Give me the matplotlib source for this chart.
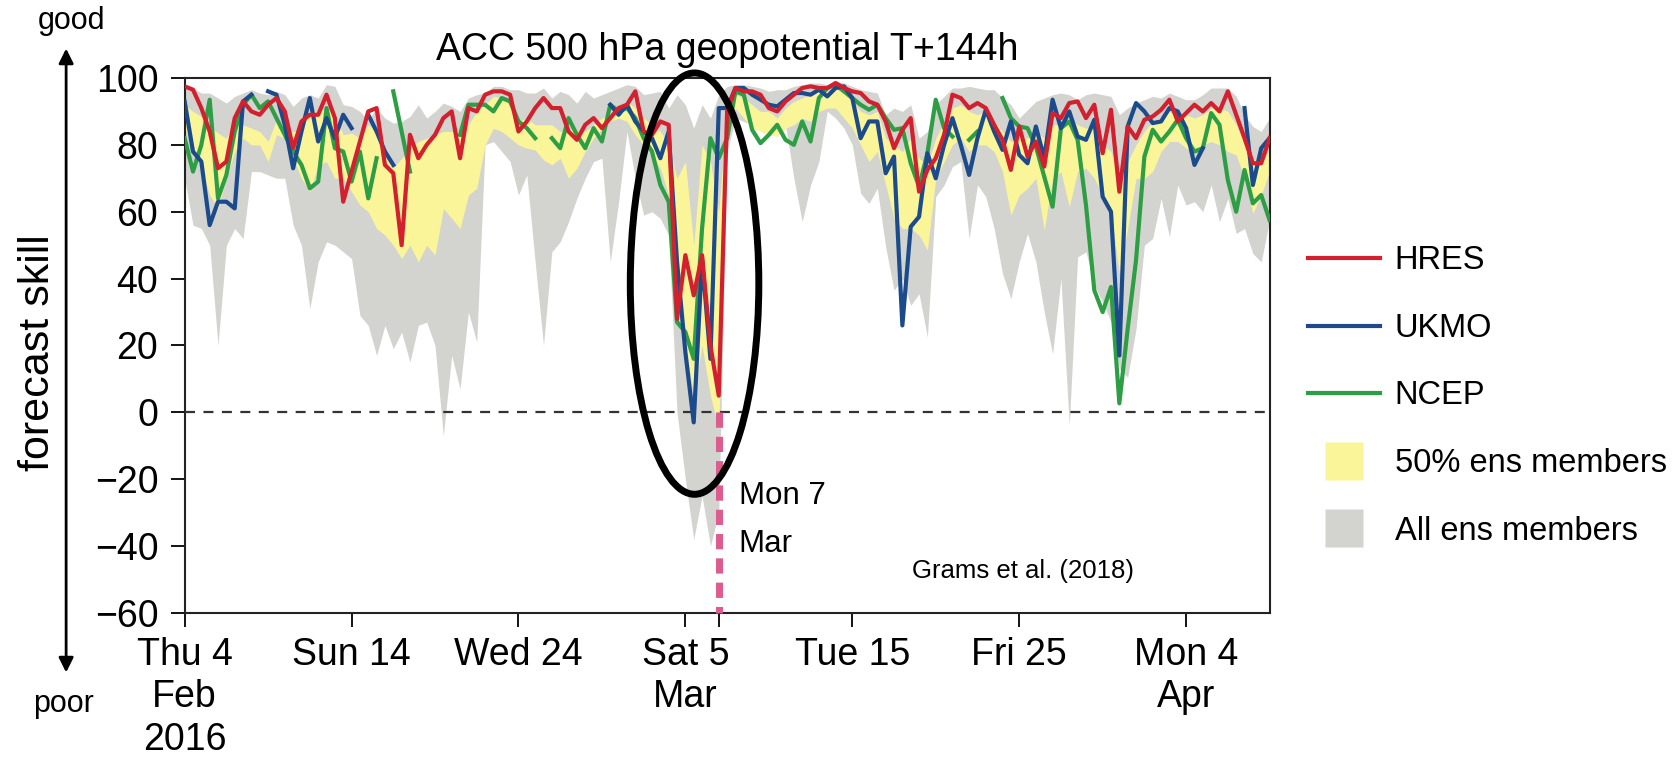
import numpy as np
import pandas as pd
import matplotlib
matplotlib.use('Agg')
import matplotlib.pyplot as plt
import matplotlib.dates as mdates
from matplotlib.patches import Ellipse, FancyArrowPatch
from matplotlib.lines import Line2D

plt.rcParams['font.family'] = ['Liberation Sans', 'DejaVu Sans']

N = None
# forecasts every 12 h from Thu 4 Feb 2016
times = pd.date_range('2016-02-04', periods=131, freq='12h')

hres = [97.5, 96.5, 91, 84, 73, 75, 88, 93, 90, 89,
        92, 94, 90, 79, 87, 89, 89, 95, 88, 63,
        72, 81, 90, 91, 74, 71.5, 50, 83, 76, 80,
        83, 88, 90, 76, 91, 90, 95, 96, 96, 95,
        84, 87, 91, 94, 91, 91, 84, 81.5, 86, 88,
        85, 88, 91, 92, 96, 84, 83, 87, 86, 28,
        47, 35, 47, 20, 5, 90, 97, 96, 96, 95,
        91, 90, 93, 95, 97, 97.5, 97, 97, 98.5, 97,
        96, 95.5, 93, 92, 87, 79, 84.5, 88, 66, 72.5,
        76, 83, 95, 94, 91, 92.5, 91, 86, 81.5, 72.5,
        85.5, 76.5, 81, 73.5, 89.5, 88, 92.5, 93, 88, 92,
        77.5, 90.5, 66, 85.5, 82, 87.5, 88.5, 90.5, 93.5, 87,
        89.5, 92, 90, 92.5, 90, 96, 89, 82, 74.5, 74.5,
        82]

ukmo = [93, 78, 75, 56, 63, 63, 61, 93, 95, N,
        96, 95, 86, 73, 84, 94, 81, 88, 82, 89,
        85, N, 89, 84, 78, 74, N, N, N, N,
        N, N, N, N, N, N, N, N, N, N,
        N, N, N, N, N, N, N, N, N, N,
        N, 92, 89, 92, 87, 84, 82, 76, 84, 45,
        18, -3, 46, 16, 91, 91, 97, 97, 95, 93.5,
        92, 91.5, 93.5, 95.5, 95.5, 95, 96.5, 94.5, 97, 97.5,
        94, 82, 87, 87, 71.5, 76.5, 26, 55.5, 58.5, 77.5,
        70, 80, 88, 80, 71, 82, 90.5, 84, 78.5, 87,
        77, 74.5, 85.5, 76, 93.5, 85, 90, 82.5, 81.5, 87.5,
        64.5, 60, 17, 85.5, 92.5, 90, 86.5, 87, 91, 90,
        85, 74, 79, N, N, N, N, 91, 68, 79,
        82]

ncep = [82, 72, 80, 93.5, 64, 71, 84, 92, 95, 91,
        93, 88, 83, 78, 74, 67, 69, 91, 79, 78,
        69, 78, 64, 76, N, 96, 84, 72, N, N,
        N, N, N, 83, 92, 92, 92, 90, 94, 93,
        87, 85, 82, N, 82, 79, 88, 83, 79, 85,
        81, 92, 90, 91, 88, 82, 78, 68, 63, 27,
        24, 16, 55, 82, 76, 82, 96, 95, 84.5, 80.5,
        83, 86, 81.5, 80, 87, 81, 94, 97, 98, 96,
        94, 92, 90.5, 92, 88, 84.5, 85, 74.5, 67.5, 77.5,
        93.5, 85, 82.5, N, 81.5, 84, N, N, 94, 88,
        85.5, 85, 79.5, 70.5, 61.5, 85, 87, 81.5, 62, 36.5,
        30, 37.5, 2.7, 25, 45.5, 76.5, 84.5, 81, 84, 87.5,
        82, 78, 79, 89.5, 86, 69.5, 60, 72.5, 62.5, 65,
        57.5]

# ensemble: all members (min / max)
ens_max = [98, 97, 95.5, 95.5, 94, 92.5, 94.5, 95.5, 96.5, 95.5,
           95, 96, 95, 91.5, 94, 95, 94, 98, 97.5, 92,
           91.5, 90, 87.5, 91, 88, 86.5, 87, 88.5, 92, 88,
           90, 92.5, 91.5, 90, 94, 95, 95.5, 97.5, 97.5, 96.5,
           96.5, 95.5, 95.5, 97, 94, 96, 95, 92.5, 96, 94,
           95, 96, 97, 98, 97.5, 95, 95.5, 96, 91, 95,
           92, 85, 92, 88, 95, 97.5, 98, 98, 97.5, 97,
           96, 96.5, 96.5, 97.5, 98, 98.5, 98.5, 98, 99, 98.5,
           97.5, 96.5, 96, 95.5, 89, 91, 90, 92, 82, 84,
           92, 94.5, 97, 97, 97.5, 97, 96.5, 96.5, 94, 92,
           88, 90.5, 93, 94, 95, 95.5, 95, 93.5, 95, 95.5,
           95, 94.5, 89, 91, 92.5, 93.5, 94.5, 94, 95.5, 94.5,
           93.5, 93.5, 95, 97, 97, 97, 94.5, 89, 85.5, 84,
           88]

ens_min = [70, 56, 55, 50, 20, 50, 55, 52, 72, 72,
           71, 70, 70, 56, 50, 31, 45, 51, 50, 48,
           46, 29, 26, 17, 26, 19, 24, 15, 26, 27,
           20, -7, 17, 7, 30, 21, 80, 81, 78, 75,
           65, 71, 45, 20, 48, 51, 57, 64, 70, 75,
           76, 45, 63, 84, 70, 59, 60, 58, 53, 0,
           -20, -38, -25, -40, -30, 78, 88, 87, 86, 85,
           87, 84, 86, 70, 57, 68, 75, 90, 88, 85,
           80, 65.5, 62.5, 67, 49.5, 36.5, 40, 32, 35.5, 22.5,
           64.5, 68, 73.5, 75, 52, 68, 64.5, 55, 41.5, 34,
           45, 53.5, 45, 30, 17.5, 40, -4, 46.5, 48, 38,
           33, 27, 13, 10.5, 25, 50, 52, 64, 52.5, 68,
           62, 63, 60, 68, 57, 64, 53.5, 55, 47.5, 45,
           57.5]

# ensemble: central 50% of members
ens_q75 = [92, 90, 88.5, 85.5, 83.5, 82, 87.5, 86, 85, 84,
           81, 87.5, 84, 84, 84, 90, 90, 91, 89, 83,
           83.5, 82, 86, 84, 79, 73, 76, 79, 81, 82,
           83, 84, 84, 83, 86, 90, 92, 94.5, 94, 92,
           87, 88, 86, 86, 86, 84, 85, 84, 84, 86,
           88, 89, 91, 93, 91, 88, 86, 84, 80, 70,
           75, 50, 80, 75, 60, 90, 95, 94, 92, 90,
           90, 88, 91, 93, 94, 95, 96, 96, 97, 95.5,
           93, 90, 89, 90, 82, 80, 78, 82, 76, 74,
           82, 87, 91, 92, 90, 89, 90, 87, 84, 81,
           83, 82, 84, 82, 86, 86, 88, 86, 85, 86,
           80, 78, 70, 75, 80, 84, 87, 88, 90, 88,
           89, 88, 89, 91, 91, 90, 86, 80, 76, 74,
           79]

ens_q25 = [85, 79, 73, 65, 61, 70, 78, 82, 80, 80,
           75, 83, 82, 76, 70, 66, 74, 75, 70, 70,
           66, 62, 60, 55, 53, 50, 46, 50, 45, 50,
           47, 61, 58, 55, 65, 67, 80, 85, 84, 82,
           80, 79, 78.5, 75.5, 74, 76, 70, 73, 78, 82,
           85, 87, 88, 87, 83, 80, 77, 73, 65, 35,
           20, 5, 20, 5, -5, 85, 91, 88, 85, 84,
           83, 82.5, 85, 86, 88, 87, 90, 91, 91, 88,
           85, 80, 75, 78, 68, 58, 55, 55, 53, 48.5,
           70, 75, 80, 82, 78, 80, 80, 78, 72, 59,
           65, 67, 70, 54.5, 70, 72, 61.5, 72, 73, 70,
           65, 60, 41.5, 55, 70, 70, 72, 78, 81, 81,
           79, 78, 80, 81, 80, 78, 77, 70, 59.5, 65,
           72]

tick_dates = ['2016-02-04', '2016-02-14', '2016-02-24', '2016-03-05',
              '2016-03-15', '2016-03-25', '2016-04-04']
tick_labels = ['Thu 4\nFeb\n2016', 'Sun 14', 'Wed 24', 'Sat 5\nMar',
               'Tue 15', 'Fri 25', 'Mon 4\nApr']
event_date = '2016-03-07'

c_hres = '#d2202e'
c_ukmo = '#1c4b8c'
c_ncep = '#2e9e45'
c_q50 = '#faf598'
c_all = '#d3d4cf'
c_pink = '#df5a8e'
lw = 3.0

t = mdates.date2num(times)
f = lambda a: np.array(a, dtype=float)

fig = plt.figure(figsize=(16.74, 7.63), dpi=100)
ax = fig.add_axes([0.1103, 0.1966, 0.6481, 0.7012])

ax.fill_between(t, f(ens_min), f(ens_max), color=c_all, lw=0, zorder=1)
ax.fill_between(t, f(ens_q25), f(ens_q75), color=c_q50, lw=0, zorder=2)
ax.axhline(0, color='#333333', lw=1.6, ls=(0, (4.5, 3.8)), zorder=3)
ax.plot(t, f(ncep), color=c_ncep, lw=lw, zorder=4)
ax.plot(t, f(ukmo), color=c_ukmo, lw=lw, zorder=5)
ax.plot(t, f(hres), color=c_hres, lw=lw, zorder=6)

ev = mdates.date2num(pd.Timestamp(event_date))
ax.plot([ev, ev], [0, -60], color=c_pink, lw=5, ls=(0, (2.2, 1.3)),
        zorder=7, clip_on=False)
ax.add_patch(Ellipse((t[0] + 30.55, 38.5), 7.7, 126, fill=False,
                     ec='black', lw=5, zorder=8, clip_on=False))
ax.text(ev + 1.2, -25, 'Mon 7', fontsize=22.5, va='center', ha='left')
ax.text(ev + 1.2, -39.5, 'Mar', fontsize=22.5, va='center', ha='left')
ax.text(t[0] + 43.6, -47.5, 'Grams et al. (2018)', fontsize=18.5,
        va='center', ha='left')

ax.set_xlim(t[0], t[0] + 65)
ax.set_ylim(-60, 100)
ax.set_yticks(np.arange(-60, 101, 20))
tk = mdates.date2num(pd.to_datetime(tick_dates))
ax.set_xticks(list(tk) + [ev])
ax.set_xticklabels(tick_labels + [''], linespacing=1.24)
ax.tick_params(axis='both', direction='out', length=10, width=1.3,
               labelsize=27, pad=7)
ax.tick_params(axis='y', pad=9)
for s in ax.spines.values():
    s.set_linewidth(1.5)
    s.set_color('#222222')

ax.set_title('ACC 500 hPa geopotential T+144h', fontsize=27, pad=13)

fig.text(0.0225, 0.538, 'forecast skill', rotation=90, fontsize=31,
         ha='center', va='center')
fig.text(0.0425, 0.972, 'good', fontsize=22, ha='center', va='center')
fig.text(0.038, 0.077, 'poor', fontsize=22, ha='center', va='center')
fig.add_artist(FancyArrowPatch((0.0395, 0.94), (0.0395, 0.115),
                               transform=fig.transFigure,
                               arrowstyle='<|-|>', mutation_scale=22,
                               lw=2, color='black'))

handles = [Line2D([], [], color=c_hres, lw=lw),
           Line2D([], [], color=c_ukmo, lw=lw),
           Line2D([], [], color=c_ncep, lw=lw),
           Line2D([], [], ls='', marker='s', ms=27, mfc=c_q50, mec='none'),
           Line2D([], [], ls='', marker='s', ms=27, mfc=c_all, mec='none')]
labels = ['HRES', 'UKMO', 'NCEP', '50% ens members', 'All ens members']
fig.legend(handles, labels, loc='center left', bbox_to_anchor=(0.7815, 0.481),
           frameon=False, fontsize=23.5, handlelength=2.2, handletextpad=0.45,
           labelspacing=1.12, borderpad=0, borderaxespad=0)

fig.savefig('out.png', dpi=100)
